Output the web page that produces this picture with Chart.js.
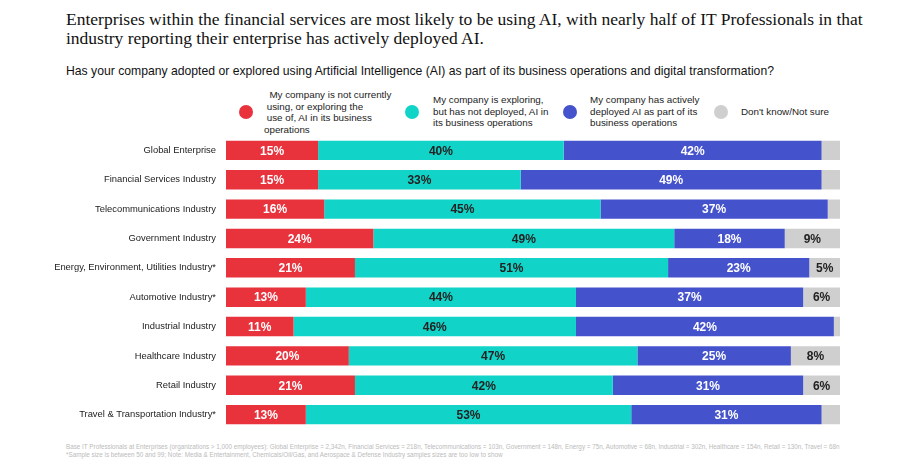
<!DOCTYPE html>
<html><head><meta charset="utf-8">
<script src="https://cdn.jsdelivr.net/npm/chart.js@4"></script>
<style>
body{margin:0;background:#fff;width:913px;height:465px;position:relative;overflow:hidden;font-family:"Liberation Sans",Arial,sans-serif}
#t{position:absolute;left:66px;top:10px;font-family:"Liberation Serif","DejaVu Serif",serif;font-size:17.5px;line-height:19px;color:#111;width:830px}
#s{position:absolute;left:66px;top:64px;font-size:12.2px;color:#111}
.lg{position:absolute;font-size:9.8px;line-height:11.5px;color:#222}
.dot{position:absolute;width:14px;height:14px;border-radius:50%}
#foot{position:absolute;left:66px;top:443px;font-size:6.3px;line-height:8px;color:#bbb}
#wrap{position:absolute;left:0;top:128px;width:913px;height:309px}
</style></head><body>
<div id="t">Enterprises within the financial services are most likely to be using AI, with nearly half of IT Professionals in that industry reporting their enterprise has actively deployed AI.</div>
<div id="s">Has your company adopted or explored using Artificial Intelligence (AI) as part of its business operations and digital transformation?</div>
<div class="dot" style="left:239px;top:105px;background:#e8323c"></div>
<div class="lg" style="left:264px;top:89px">&nbsp;&nbsp;My company is not currently<br>&nbsp;using, or exploring the<br>&nbsp;use of, AI in its business<br>operations</div>
<div class="dot" style="left:405px;top:105px;background:#12d3c8"></div>
<div class="lg" style="left:433px;top:94px">My company is exploring,<br>but has not deployed, AI in<br>its business operations</div>
<div class="dot" style="left:563px;top:105px;background:#4452cc"></div>
<div class="lg" style="left:590px;top:94px">My company has actively<br>deployed AI as part of its<br>business operations</div>
<div class="dot" style="left:714px;top:105px;background:#cfcfcf"></div>
<div class="lg" style="left:741px;top:106px">Don't know/Not sure</div>
<div id="wrap"><canvas id="c"></canvas></div>
<div id="foot">Base IT Professionals at Enterprises (organizations &gt; 1,000 employees): Global Enterprise = 2,342n, Financial Services = 218n, Telecommunications = 103n, Government = 148n, Energy = 75n, Automotive = 68n, Industrial = 302n, Healthcare = 154n, Retail = 130n, Travel = 68n<br>*Sample size is between 50 and 99; Note: Media &amp; Entertainment, Chemicals/Oil/Gas, and Aerospace &amp; Defense Industry samples sizes are too low to show</div>
<script>
const categories=["Global Enterprise","Financial Services Industry","Telecommunications Industry","Government Industry","Energy, Environment, Utilities Industry*","Automotive Industry*","Industrial Industry","Healthcare Industry","Retail Industry","Travel & Transportation Industry*"];
const notUsing=[15,15,16,24,21,13,11,20,21,13];
const exploring=[40,33,45,49,51,44,46,47,42,53];
const deployed=[42,49,37,18,23,37,42,25,31,31];
const dontKnow=[3,3,2,9,5,6,1,8,6,3];
const seriesNames=["My company is not currently using, or exploring the use of, AI in its business operations","My company is exploring, but has not deployed, AI in its business operations","My company has actively deployed AI as part of its business operations","Don't know/Not sure"];
const colors=["#e8323c","#12d3c8","#4452cc","#cfcfcf"];
const textColors=["#fff","#222","#fff","#222"];
const labelPlugin={id:"lbl",afterDatasetsDraw(ch){const c=ch.ctx;c.save();c.font="bold 12px 'Liberation Sans',Arial";c.textAlign="center";c.textBaseline="middle";
ch.data.datasets.forEach((ds,i)=>{ch.getDatasetMeta(i).data.forEach((b,j)=>{const v=ds.data[j];if(v<5)return;c.fillStyle=textColors[i];const x=(b.x+b.base)/2;c.fillText(v+"%",x,b.y+1);});});c.restore();}};
new Chart(document.getElementById("c"),{type:"bar",
data:{labels:categories,datasets:[notUsing,exploring,deployed,dontKnow].map((d,i)=>({label:seriesNames[i],data:d,backgroundColor:colors[i],barPercentage:0.66,categoryPercentage:1}))},
options:{indexAxis:"y",responsive:true,maintainAspectRatio:false,animation:false,
layout:{padding:{left:0,right:73,top:0,bottom:0}},
plugins:{legend:{display:false},tooltip:{enabled:false}},
scales:{x:{stacked:true,min:0,max:100,display:false},
y:{stacked:true,grid:{display:false},border:{display:false},afterFit(s){s.width=226;},ticks:{color:"#222",font:{size:9.4,family:"'Liberation Sans',Arial"},padding:2}}}},
plugins:[labelPlugin]});
</script></body></html>
